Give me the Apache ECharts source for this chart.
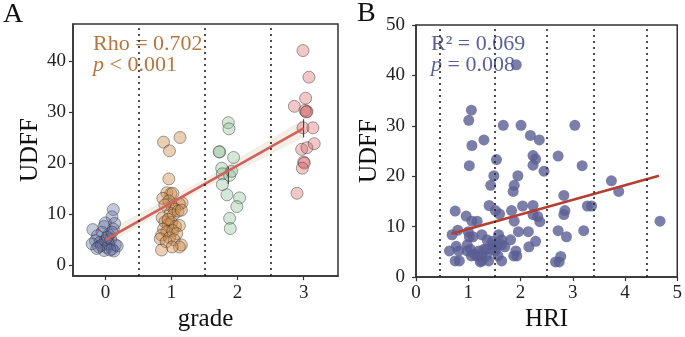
<!DOCTYPE html>
<html>
<head>
<meta charset="utf-8">
<script src="https://cdn.jsdelivr.net/npm/echarts@6/dist/echarts.min.js"></script>
<style>
  html, body { margin: 0; padding: 0; background: #fff; }
  #chart { width: 685px; height: 337px; }
</style>
</head>
<body>
<div id="chart"></div>
<script>
// panel A: UDFF by grade (jittered x, value)
const grade0 = [
  [0.12, 10.9], [0.10, 9.5], [-0.19, 7.0], [0.00, 8.3], [0.14, 8.2], [0.12, 7.1],
  [-0.05, 6.5], [-0.12, 5.8], [0.05, 6.0], [-0.15, 4.8], [-0.08, 4.5], [0.00, 4.9],
  [0.08, 5.1], [0.15, 4.0], [-0.20, 4.2], [-0.10, 3.6], [0.02, 3.5], [0.10, 3.2],
  [0.13, 2.8], [-0.02, 2.9], [0.05, 4.2], [-0.06, 3.9], [0.18, 3.8], [0.07, 3.0],
  [-0.13, 3.3], [0.03, 5.5], [0.10, 6.5], [-0.02, 7.6]
];
const grade1 = [
  [0.88, 24.1], [1.13, 25.0], [0.97, 22.4], [0.96, 16.9], [0.93, 14.2], [0.99, 14.0],
  [1.02, 14.1], [0.87, 13.1], [1.16, 12.2], [1.12, 12.0], [0.96, 12.6], [1.01, 11.5],
  [1.05, 11.0], [0.98, 10.2], [1.03, 9.9], [0.86, 9.3], [0.90, 8.5], [0.95, 8.0],
  [1.00, 8.4], [1.06, 7.6], [1.12, 7.8], [0.88, 7.1], [0.93, 6.6], [1.02, 6.8],
  [1.08, 6.2], [0.85, 5.9], [0.83, 5.2], [0.97, 5.4], [1.04, 5.0], [0.92, 4.6],
  [1.15, 4.0], [1.12, 3.6], [1.01, 3.6], [0.85, 3.0], [0.95, 9.0], [1.10, 10.6],
  [1.15, 10.8], [0.90, 11.8]
];
const grade2 = [
  [1.86, 27.9], [1.87, 26.7], [1.73, 22.2], [1.72, 22.2], [1.94, 21.1], [1.76, 19.0],
  [1.77, 17.9], [1.88, 17.6], [1.91, 18.4], [1.77, 15.8], [1.84, 13.8], [2.03, 13.2],
  [1.99, 11.5], [1.88, 9.2], [1.89, 7.2]
];
const grade3 = [
  [2.99, 42.0], [3.08, 36.8], [3.03, 32.7], [2.86, 31.1], [3.05, 30.1], [3.02, 30.3],
  [3.04, 30.0], [2.99, 26.9], [3.14, 26.9], [2.97, 22.7], [3.05, 23.0], [3.16, 23.8],
  [3.00, 20.2], [3.01, 20.0], [2.98, 19.0], [2.90, 14.1]
];
const fitA = [[0, 5.0], [3, 26.8]];
const bandX = [0, 1.5, 3];
const bandLow = [3.8, 15.1, 25.0];
const bandHigh = [6.6, 16.9, 28.6];
const errA2 = [[1.86, 15.9], [1.86, 19.3]];
const errA3 = [[3.0, 25.0], [3.0, 28.6]];
const splitsA = [0.5, 1.5, 2.5];
const ticksA_x = [0, 1, 2, 3];
const ticksA_y = [0, 10, 20, 30, 40];

// panel B: UDFF vs HRI
const hri = [
  [1.92, 42.1], [1.06, 33.1], [1.01, 31.1], [1.07, 26.1], [1.30, 27.2], [1.02, 22.1],
  [1.67, 30.1], [2.01, 30.1], [3.04, 30.1], [2.19, 28.1], [2.36, 27.2], [2.24, 24.1],
  [2.29, 23.4], [2.24, 22.2], [2.45, 21.0], [2.72, 24.0], [3.18, 22.1], [1.54, 23.3],
  [1.49, 20.1], [1.95, 20.1], [1.43, 18.2], [1.88, 18.2], [1.86, 17.0], [3.74, 19.1],
  [3.88, 17.0], [1.40, 14.2], [1.52, 13.2], [1.60, 12.5], [1.83, 13.2], [2.04, 14.1],
  [2.24, 14.2], [2.24, 12.4], [2.33, 12.0], [2.37, 11.0], [2.83, 16.2], [2.85, 13.2],
  [2.83, 12.4], [3.28, 14.1], [3.36, 14.1], [4.67, 11.1], [0.75, 13.1], [0.96, 12.1],
  [1.07, 11.1], [1.17, 11.1], [1.88, 11.1], [1.96, 9.0], [2.15, 9.0], [2.72, 9.2],
  [2.88, 8.0], [3.21, 9.2], [0.80, 9.3], [0.69, 8.4], [1.02, 8.0], [1.09, 8.0],
  [1.26, 8.4], [1.36, 7.4], [1.58, 8.4], [1.64, 7.4], [1.81, 7.4], [2.29, 7.1],
  [2.16, 6.0], [0.64, 5.2], [0.77, 6.1], [0.82, 5.2], [0.75, 3.2], [0.83, 3.2],
  [0.98, 6.4], [0.98, 5.2], [1.04, 5.5], [1.06, 4.2], [1.15, 4.2], [1.20, 5.2],
  [1.30, 5.5], [1.26, 4.2], [1.35, 4.2], [1.26, 3.2], [1.39, 3.2], [1.34, 5.5],
  [1.47, 6.4], [1.46, 5.5], [1.55, 6.2], [1.52, 5.2], [1.57, 4.2], [1.64, 6.4],
  [1.70, 6.0], [1.64, 3.2], [1.87, 4.2], [1.91, 5.2], [1.93, 4.2], [2.67, 3.0],
  [2.74, 3.0], [2.77, 4.1], [1.23, 3.0], [1.46, 7.1], [1.12, 4.6], [1.00, 9.0]
];
const fitB = [[0.68, 8.6], [4.65, 20.1]];
const splitsB = [0.45, 1.5, 2.5, 3.4, 4.42];

const serif = 'Liberation Serif';
const axisColor = '#333';

const chart = echarts.init(document.getElementById('chart'));

const dotted = (vals) => ({
  silent: true,
  symbol: ['none', 'none'],
  label: { show: false },
  lineStyle: { color: '#222', type: [2, 4], width: 1.6 },
  data: vals.map(v => ({ xAxis: v }))
});

const scatterA = (data, fill) => ({
  type: 'scatter',
  xAxisIndex: 0, yAxisIndex: 0,
  data: data,
  symbolSize: 12,
  itemStyle: { color: fill, borderColor: 'rgba(40,40,40,0.55)', borderWidth: 1 }
});

const tickLabel = { color: '#222', fontFamily: serif, fontSize: 19 };
const nameStyle = { color: '#111', fontFamily: serif, fontSize: 25 };
const line = { onZero: false, lineStyle: { color: axisColor, width: 1.5 } };

// band polygon: upper edge forward, lower edge back
const bandPoly = bandX.map((x, i) => [x, bandHigh[i]])
  .concat(bandX.map((x, i) => [x, bandLow[i]]).reverse());

const option = {
  animation: false,
  grid: [
    { left: 73, top: 24, width: 265, height: 262, show: true, borderColor: axisColor, borderWidth: 1.5 },
    { left: 416, top: 25, width: 264, height: 260, show: true, borderColor: axisColor, borderWidth: 1.5 }
  ],
  xAxis: [
    {
      gridIndex: 0, type: 'value', min: -0.49, max: 3.52,
      name: 'grade', nameLocation: 'middle', nameGap: 27, nameTextStyle: nameStyle,
      axisLine: line,
      axisTick: { customValues: ticksA_x, length: 4, lineStyle: { color: axisColor, width: 1.2 } },
      axisLabel: Object.assign({ customValues: ticksA_x, margin: 7 }, tickLabel),
      splitLine: { show: false }
    },
    {
      gridIndex: 1, type: 'value', min: 0, max: 5, interval: 1,
      name: 'HRI', nameLocation: 'middle', nameGap: 27, nameTextStyle: nameStyle,
      axisLine: line,
      axisTick: { length: 4, lineStyle: { color: axisColor, width: 1.2 } },
      axisLabel: Object.assign({ margin: 6, showMaxLabel: true }, tickLabel),
      splitLine: { show: false }
    }
  ],
  yAxis: [
    {
      gridIndex: 0, type: 'value', min: -2.1, max: 47.2,
      name: 'UDFF', nameLocation: 'middle', nameGap: 30, nameTextStyle: nameStyle,
      axisLine: Object.assign({ show: true }, line),
      axisTick: { show: true, customValues: ticksA_y, length: 4, lineStyle: { color: axisColor, width: 1.2 } },
      axisLabel: Object.assign({ customValues: ticksA_y, margin: 7 }, tickLabel),
      splitLine: { show: false }
    },
    {
      gridIndex: 1, type: 'value', min: 0, max: 50, interval: 10,
      name: 'UDFF', nameLocation: 'middle', nameGap: 34, nameTextStyle: nameStyle,
      axisLine: Object.assign({ show: true }, line),
      axisTick: { show: true, length: 4, lineStyle: { color: axisColor, width: 1.2 } },
      axisLabel: Object.assign({ margin: 11 }, tickLabel),
      splitLine: { show: false }
    }
  ],
  series: [
    // confidence band
    {
      type: 'custom', xAxisIndex: 0, yAxisIndex: 0, silent: true,
      data: [0],
      renderItem: (params, api) => ({
        type: 'polygon',
        shape: { points: bandPoly.map(p => api.coord(p)) },
        style: { fill: '#f2efe7' }
      })
    },
    // dotted separators
    { type: 'line', xAxisIndex: 0, yAxisIndex: 0, data: [], markLine: dotted(splitsA) },
    scatterA(grade0, 'rgba(95,105,160,0.45)'),
    scatterA(grade1, 'rgba(205,135,70,0.5)'),
    scatterA(grade2, 'rgba(135,190,150,0.45)'),
    scatterA(grade3, 'rgba(215,100,100,0.45)'),
    {
      type: 'line', xAxisIndex: 0, yAxisIndex: 0, data: errA2, symbol: 'none',
      lineStyle: { color: '#333', width: 1 }
    },
    {
      type: 'line', xAxisIndex: 0, yAxisIndex: 0, data: errA3, symbol: 'none',
      lineStyle: { color: '#333', width: 1 }
    },
    {
      type: 'line', xAxisIndex: 0, yAxisIndex: 0, data: fitA, symbol: 'none',
      lineStyle: { color: '#d3605a', width: 2.6 }
    },
    // panel B
    { type: 'line', xAxisIndex: 1, yAxisIndex: 1, data: [], markLine: dotted(splitsB) },
    {
      type: 'scatter', xAxisIndex: 1, yAxisIndex: 1, data: hri, symbolSize: 11,
      itemStyle: { color: '#5a5e94' }
    },
    {
      type: 'line', xAxisIndex: 1, yAxisIndex: 1, data: fitB, symbol: 'none',
      lineStyle: { color: '#b63e30', width: 2.6 }
    }
  ],
  graphic: [
    { type: 'text', left: 3, top: 1, style: { text: 'A', font: '28px "Liberation Serif"', fill: '#111' } },
    { type: 'text', left: 357, top: 0, style: { text: 'B', font: '28px "Liberation Serif"', fill: '#111' } },
    {
      type: 'text', left: 93, top: 33,
      style: {
        text: 'Rho = 0.702\n{i|p} < 0.001', font: '22px "Liberation Serif"', fill: '#b5773e', lineHeight: 21,
        rich: { i: { fontStyle: 'italic', fontFamily: serif, fontSize: 22, fill: '#b5773e' } }
      }
    },
    {
      type: 'text', left: 431, top: 33,
      style: {
        text: 'R² = 0.069\n{i|p} = 0.008', font: '22px "Liberation Serif"', fill: '#5b6097', lineHeight: 21,
        rich: { i: { fontStyle: 'italic', fontFamily: serif, fontSize: 22, fill: '#5b6097' } }
      }
    }
  ]
};

chart.setOption(option);
window.addEventListener('resize', () => chart.resize());
</script>
</body>
</html>
